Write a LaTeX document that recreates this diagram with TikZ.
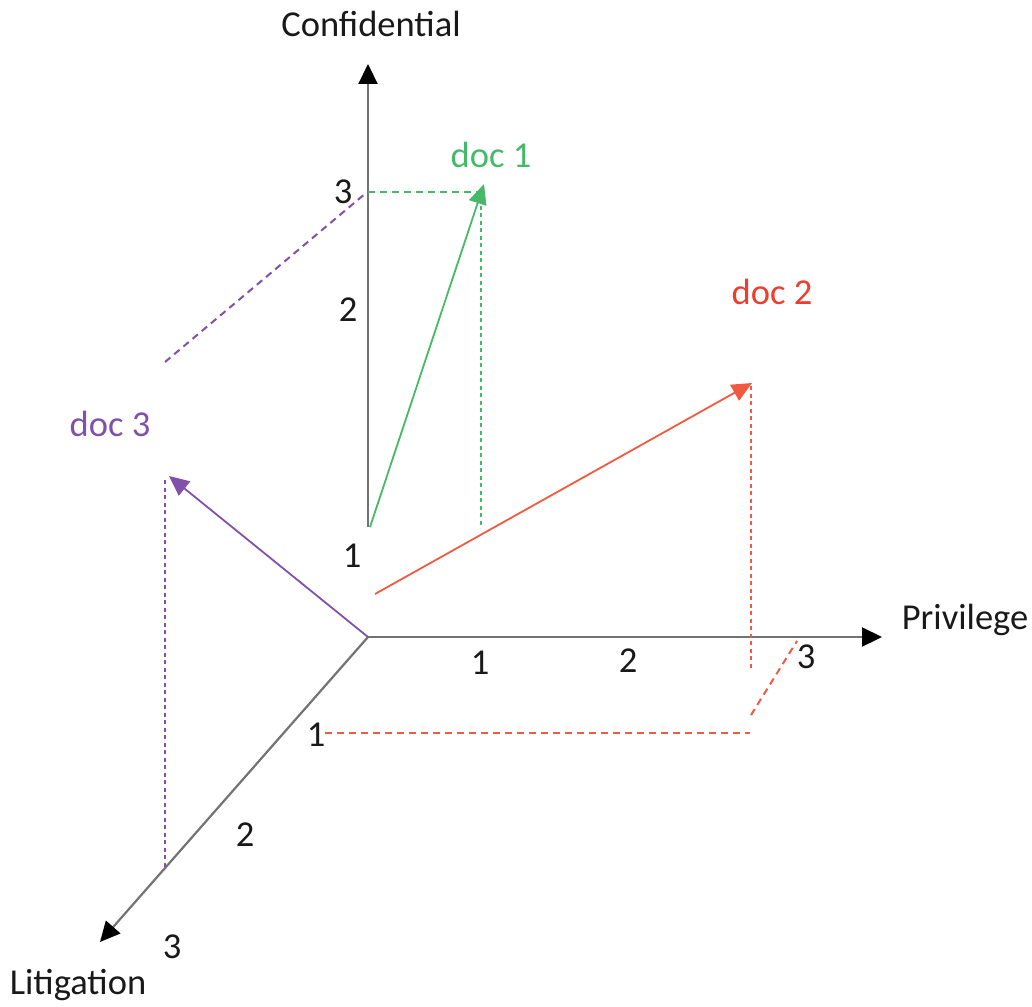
\documentclass[tikz,border=0pt]{standalone}
\usepackage{fontspec}
\setmainfont{Carlito}
\usetikzlibrary{arrows.meta}
\definecolor{axisgray}{RGB}{115,115,115}
\definecolor{docgreen}{RGB}{70,185,105}
\definecolor{docred}{RGB}{240,90,65}
\definecolor{docredlbl}{RGB}{238,60,45}
\definecolor{docpurple}{RGB}{128,80,170}
\definecolor{txt}{RGB}{25,25,25}
\begin{document}
\begin{tikzpicture}[x=1pt,y=-1pt,
  lbl/.style={font=\fontsize{36.5}{42}\selectfont, inner sep=0pt, anchor=center},
  axisline/.style={draw=axisgray, line width=2.2pt},
  axisarrow/.style={axisline, -{Triangle[length=20pt,width=19pt,fill=black,color=black]}},
  docarrow/.style={line width=2pt, -{Triangle[length=20pt,width=18pt]}},
  longdash/.style={line width=2pt, dash pattern=on 7pt off 5pt},
  shortdot/.style={line width=2.4pt, dash pattern=on 4pt off 3.5pt}]
\useasboundingbox (0,0) rectangle (1032,1006);
% coordinates
\coordinate (O) at (368,637);
\coordinate (cbase) at (368,527);
\coordinate (ctip) at (368,64);
\coordinate (ptip) at (882,637);
\coordinate (ltip) at (100,942);
\coordinate (c3) at (368,192);
\coordinate (d1s) at (370,527);
\coordinate (d1t) at (484,184);
\coordinate (g1) at (481,192);
\coordinate (g2) at (481,198);
\coordinate (g3) at (481,528);
\coordinate (d2s) at (375,594);
\coordinate (d2t) at (752,383);
\coordinate (r1) at (751,386);
\coordinate (r2) at (751,668);
\coordinate (r3) at (751,715);
\coordinate (r4) at (797,641);
\coordinate (r5) at (325,733);
\coordinate (r6) at (750,733);
\coordinate (d3t) at (169,476);
\coordinate (p1) at (165,362);
\coordinate (p2) at (366,193);
\coordinate (p3) at (165,480);
\coordinate (p4) at (165,870);
% axes
\draw[axisarrow] (cbase) -- (ctip);
\draw[axisarrow] (O) -- (ptip);
\draw[axisarrow] (O) -- (ltip);
% doc 1
\draw[docgreen, longdash] (c3) -- (g1);
\draw[docgreen, shortdot] (g2) -- (g3);
\draw[docgreen, docarrow, line width=1.8pt] (d1s) -- (d1t);
% doc 2
\draw[docred, shortdot, line width=2pt] (r1) -- (r2);
\draw[docred, longdash] (r3) -- (r4);
\draw[docred, longdash] (r5) -- (r6);
\draw[docred, docarrow, line width=1.8pt] (d2s) -- (d2t);
% doc 3
\draw[docpurple, longdash] (p1) -- (p2);
\draw[docpurple, shortdot] (p3) -- (p4);
\draw[docpurple, docarrow, line width=1.8pt] (O) -- (d3t);
% labels
\node[lbl, txt] (lconf) at (371,24) {Confidential};
\node[lbl, txt] (lpriv) at (965,620) {Privilege};
\node[lbl, txt] (llit) at (78,985) {Litigation};
\node[lbl, docgreen] (ldoc1) at (491,155) {doc 1};
\node[lbl, docredlbl] (ldoc2) at (772,292) {doc 2};
\node[lbl, docpurple] (ldoc3) at (110,424) {doc 3};
\node[lbl, txt] (tc3) at (343,192) {3};
\node[lbl, txt] (tc2) at (348,310) {2};
\node[lbl, txt] (tc1) at (352,556) {1};
\node[lbl, txt] (tp1) at (480,663) {1};
\node[lbl, txt] (tp2) at (628,661) {2};
\node[lbl, txt] (tp3) at (806,657) {3};
\node[lbl, txt] (tl1) at (316,735) {1};
\node[lbl, txt] (tl2) at (245,835) {2};
\node[lbl, txt] (tl3) at (172,947) {3};
\end{tikzpicture}
\end{document}
